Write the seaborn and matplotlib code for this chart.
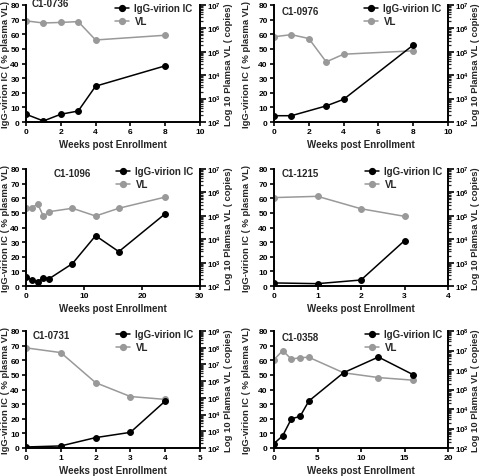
import matplotlib
matplotlib.use("Agg")
import matplotlib.pyplot as plt
from matplotlib.ticker import LogLocator, LogFormatterMathtext, NullFormatter, MultipleLocator
from matplotlib.lines import Line2D
import seaborn as sns

# ---- data ----
weeks_0736 = [0, 1, 2, 3, 4, 8]
igg_0736 = [5.3, 0.7, 5.3, 7.5, 24.5, 38.4]
vl_0736 = [2.1e6, 1.7e6, 1.8e6, 1.95e6, 3.2e5, 5.1e5]

weeks_igg_0976 = [0, 1, 3, 4, 8]
igg_0976 = [4.3, 4.3, 11.0, 15.5, 52.6]
weeks_vl_0976 = [0, 1, 2, 3, 4, 8]
vl_0976 = [4.4e5, 5.4e5, 3.7e5, 3.7e4, 7.9e4, 1.1e5]

weeks_1096 = [0, 1, 2, 3, 4, 8, 12, 16, 24]
igg_1096 = [6.2, 4.3, 2.7, 5.7, 5.0, 15.3, 34.4, 23.5, 49.4]
vl_1096 = [2.1e5, 2.1e5, 3.3e5, 9.5e4, 1.5e5, 2.1e5, 9.8e4, 2.1e5, 6.3e5]

weeks_1215 = [0, 1, 2, 3]
igg_1215 = [2.1, 1.6, 4.1, 31.0]
vl_1215 = [6.0e5, 6.8e5, 2.0e5, 9.5e4]

weeks_0731 = [0, 1, 2, 3, 4]
igg_0731 = [0.7, 1.4, 7.1, 10.7, 32.1]
vl_0731 = [9.8e7, 5.1e7, 8.1e5, 1.2e5, 8.1e4]

weeks_0358 = [0, 1, 2, 3, 4, 8, 12, 16]
igg_0358 = [3.0, 8.4, 20.0, 21.6, 32.1, 51.5, 62.2, 50.1]
vl_0358 = [3.4e6, 9.8e6, 3.6e6, 4.3e6, 4.5e6, 7.2e5, 4.1e5, 3.0e5]

panel_ids = ["C1-0736", "C1-0976", "C1-1096", "C1-1215", "C1-0731", "C1-0358"]
x_max = [10, 10, 30, 4, 5, 20]
x_step = [2, 2, 10, 1, 1, 5]
vl_top = [1e7, 1e7, 1e7, 1e7, 1e9, 1e8]

panels = [
    (weeks_0736, igg_0736, weeks_0736, vl_0736),
    (weeks_igg_0976, igg_0976, weeks_vl_0976, vl_0976),
    (weeks_1096, igg_1096, weeks_1096, vl_1096),
    (weeks_1215, igg_1215, weeks_1215, vl_1215),
    (weeks_0731, igg_0731, weeks_0731, vl_0731),
    (weeks_0358, igg_0358, weeks_0358, vl_0358),
]

sns.set_theme(style="ticks")
plt.rcParams["font.family"] = ["Liberation Sans", "DejaVu Sans"]
plt.rcParams["font.weight"] = "bold"
plt.rcParams["mathtext.fontset"] = "custom"
plt.rcParams["mathtext.rm"] = "Liberation Sans:bold"
plt.rcParams["mathtext.bf"] = "Liberation Sans:bold"
plt.rcParams["mathtext.default"] = "bf"

GRAY = "#999999"
MS = 4.2
fig = plt.figure(figsize=(4.8, 4.77), dpi=100)

W, H = 480, 477
col_left = [26, 274]
row_top = [6, 170, 332]
ax_w, ax_h = 174, 117
title_x = [0.035, 0.046, 0.16, 0.046, 0.04, 0.046]
title_y = [1.02, 0.95, 0.97, 0.97, 0.97, 0.95]
leg_x = [115, 364, 116, 365, 116, 365]
leg_y = [4, 4, 167, 167, 330, 330]
ylab_left_x = [-0.092, -0.132]
ylab_right_x = [1.138, 1.132]

for i, (wi, igg, wv, vl) in enumerate(panels):
    r, c = divmod(i, 2)
    left = col_left[c]
    top = row_top[r]
    ax = fig.add_axes([left / W, (H - top - ax_h) / H, ax_w / W, ax_h / H])
    ax2 = ax.twinx()

    sns.lineplot(x=wv, y=vl, ax=ax2, color=GRAY, marker="o", markersize=MS,
                 markeredgecolor=GRAY, linewidth=1.1, legend=False)
    sns.lineplot(x=wi, y=igg, ax=ax, color="black", marker="o", markersize=MS,
                 markeredgecolor="black", linewidth=1.1, legend=False)
    ax.set_zorder(ax2.get_zorder() + 1)
    ax.patch.set_visible(False)

    ax.set_xlim(0, x_max[i])
    ax.set_ylim(0, 80)
    ax.xaxis.set_major_locator(MultipleLocator(x_step[i]))
    ax.yaxis.set_major_locator(MultipleLocator(10))
    ax2.set_yscale("log")
    ax2.set_ylim(1e2, vl_top[i])
    ax2.yaxis.set_major_locator(LogLocator(base=10, numticks=12))
    ax2.yaxis.set_major_formatter(LogFormatterMathtext())
    ax2.yaxis.set_minor_locator(LogLocator(base=10, subs=range(2, 10), numticks=12))
    ax2.yaxis.set_minor_formatter(NullFormatter())

    for a in (ax, ax2):
        a.spines["top"].set_visible(False)
        for s in a.spines.values():
            s.set_linewidth(1.4)
            s.set_color("black")
    ax.spines["right"].set_visible(False)
    ax2.spines["left"].set_visible(False)
    ax2.spines["bottom"].set_visible(False)

    ax.tick_params(axis="both", direction="out", length=3, width=1.2, pad=1.5,
                   labelsize=6, colors="black")
    ax2.tick_params(axis="y", which="major", direction="out", length=4, width=1.2,
                    pad=1, labelsize=5.8, colors="black")
    ax2.tick_params(axis="y", which="minor", direction="out", length=2.5, width=0.9)
    for lab in ax.get_xticklabels() + ax.get_yticklabels():
        lab.set_fontweight("bold")

    ax.set_xlabel("Weeks post Enrollment", fontsize=7, fontweight="bold", labelpad=3)
    ax.set_ylabel("IgG-virion IC ( % plasma VL)", fontsize=6.8, fontweight="bold")
    ax2.set_ylabel("Log 10 Plamsa VL ( copies)", fontsize=6.8, fontweight="bold")
    ax.yaxis.set_label_coords(ylab_left_x[c], 0.5)
    ax2.yaxis.set_label_coords(ylab_right_x[c], 0.5)

    ax.text(title_x[i], title_y[i], panel_ids[i], transform=ax.transAxes,
            fontsize=7, fontweight="bold", va="center", ha="left")

    handles = [
        Line2D([], [], color="black", marker="o", markersize=MS, linewidth=1.1),
        Line2D([], [], color=GRAY, marker="o", markersize=MS, linewidth=1.1),
    ]
    ax.legend(handles, ["IgG-virion IC", "VL"], loc="upper left",
              bbox_to_anchor=(leg_x[i] / W, 1 - leg_y[i] / H),
              bbox_transform=fig.transFigure, frameon=False,
              handlelength=1.4, handletextpad=0.6, borderpad=0, borderaxespad=0,
              labelspacing=0.35, prop={"weight": "bold", "size": 7})

fig.savefig("out.png", dpi=100)
